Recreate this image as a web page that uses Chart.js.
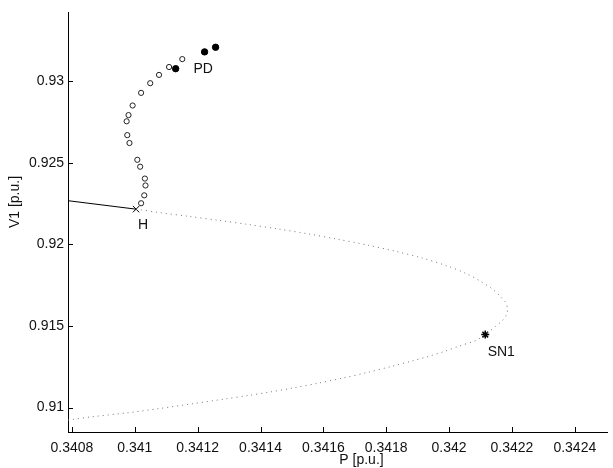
<!DOCTYPE html>
<html>
<head>
<meta charset="utf-8">
<script src="https://cdn.jsdelivr.net/npm/chart.js@4/dist/chart.umd.min.js"></script>
<style>
  html, body { margin: 0; padding: 0; background: #fff; overflow: hidden; }
  #wrap { width: 613px; height: 468px; }
</style>
</head>
<body>
<div id="wrap"><canvas id="bifChart" width="613" height="468"></canvas></div>
<script>
// stable equilibrium branch (solid) up to the Hopf point
const stableP = [0.340787, 0.341004];
const stableV = [0.922680, 0.922160];

// unstable equilibrium branch (dotted), H -> nose -> SN1 -> lower branch
const unstableP = [0.341004, 0.341077, 0.341172, 0.341266, 0.341361, 0.341455, 0.341550, 0.341644,
  0.341739, 0.341833, 0.341912, 0.341991, 0.342054, 0.342101, 0.342139, 0.342164, 0.342180,
  0.342186, 0.342183, 0.342170, 0.342148, 0.342115, 0.342085, 0.342032, 0.341984, 0.341934,
  0.341883, 0.341817, 0.341739, 0.341660, 0.341581, 0.341502, 0.341430, 0.341361, 0.341288,
  0.341181, 0.341077, 0.340973, 0.340866, 0.340800, 0.340787];
const unstableV = [0.922160, 0.921954, 0.921718, 0.921476, 0.921222, 0.920950, 0.920653, 0.920321,
  0.919964, 0.919564, 0.919177, 0.918699, 0.918215, 0.917731, 0.917248, 0.916794, 0.916431,
  0.916068, 0.915705, 0.915342, 0.914979, 0.914477, 0.914114, 0.913769, 0.913436, 0.913134,
  0.912862, 0.912529, 0.912148, 0.911803, 0.911488, 0.911198, 0.910956, 0.910744, 0.910532,
  0.910230, 0.909939, 0.909673, 0.909443, 0.909273, 0.909237];

// periodic orbit branch (open circles)
const cycleP = [0.341020, 0.341030, 0.341034, 0.341032, 0.341017, 0.341008, 0.340983, 0.340976,
  0.340974, 0.340980, 0.340993, 0.341020, 0.341049, 0.341077, 0.341109, 0.341151];
const cycleV = [0.922523, 0.923007, 0.923612, 0.924035, 0.924761, 0.925185, 0.926213, 0.926697,
  0.927544, 0.927925, 0.928512, 0.929286, 0.929879, 0.930387, 0.930871, 0.931355];

// period doubled orbits (filled circles)
const pdP = [0.341130, 0.341222, 0.341257];
const pdV = [0.930768, 0.931797, 0.932081];

// bifurcation points
const hopfP = [0.341004];
const hopfV = [0.922160];
const snP = [0.342115];
const snV = [0.914477];

const xTicks = [0.3408, 0.341, 0.3412, 0.3414, 0.3416, 0.3418, 0.342, 0.3422, 0.3424];
const yTicks = [0.91, 0.915, 0.92, 0.925, 0.93];

const FONT = '"Liberation Sans", Arial, sans-serif';

function pts(xs, ys) {
    return xs.map((x, i) => ({ x: x, y: ys[i] }));
}

function fmt(v) {
    return String(Number(v.toFixed(4)));
}

// inside tick marks, point labels and axis titles
const decorations = {
    id: 'decorations',
    afterDraw(chart) {
        const ctx = chart.ctx;
        const xs = chart.scales.x;
        const ys = chart.scales.y;
        const area = chart.chartArea;
        ctx.save();
        ctx.strokeStyle = '#000';
        ctx.lineWidth = 1;
        ctx.beginPath();
        xTicks.forEach(v => {
            const px = Math.round(xs.getPixelForValue(v)) + 0.5;
            ctx.moveTo(px, area.bottom);
            ctx.lineTo(px, area.bottom - 5);
        });
        yTicks.forEach(v => {
            const py = Math.round(ys.getPixelForValue(v)) + 0.5;
            ctx.moveTo(area.left, py);
            ctx.lineTo(area.left + 5, py);
        });
        ctx.stroke();

        ctx.fillStyle = '#111';
        ctx.font = '14px ' + FONT;
        ctx.textAlign = 'center';
        ctx.textBaseline = 'middle';
        const label = (text, x, y, dx, dy) => {
            ctx.fillText(text, xs.getPixelForValue(x) + dx, ys.getPixelForValue(y) + dy);
        };
        label('H', hopfP[0], hopfV[0], 7, 16);
        label('PD', pdP[0], pdV[0], 27.5, 0.5);
        label('SN1', snP[0], snV[0], 16, 17.5);

        ctx.fillText('P [p.u.]', 361.5, 460);
        ctx.translate(15, 202);
        ctx.rotate(-Math.PI / 2);
        ctx.fillText('V1 [p.u.]', 0, 0);
        ctx.restore();
    }
};

const ctx = document.getElementById('bifChart').getContext('2d');

new Chart(ctx, {
    type: 'scatter',
    data: {
        datasets: [
            {
                label: 'stable',
                data: pts(stableP, stableV),
                showLine: true,
                borderColor: '#000',
                borderWidth: 1,
                pointRadius: 0
            },
            {
                label: 'unstable',
                data: pts(unstableP, unstableV),
                showLine: true,
                borderColor: '#777',
                borderWidth: 1,
                borderDash: [1, 4],
                tension: 0.3,
                pointRadius: 0
            },
            {
                label: 'cycles',
                data: pts(cycleP, cycleV),
                pointStyle: 'circle',
                pointRadius: 2.6,
                borderWidth: 1,
                borderColor: '#222',
                backgroundColor: '#fff'
            },
            {
                label: 'PD',
                data: pts(pdP, pdV),
                pointStyle: 'circle',
                pointRadius: 3.2,
                borderWidth: 1,
                borderColor: '#000',
                backgroundColor: '#000'
            },
            {
                label: 'H',
                data: pts(hopfP, hopfV),
                pointStyle: 'crossRot',
                pointRadius: 4.5,
                borderWidth: 1,
                borderColor: '#000'
            },
            {
                label: 'SN1',
                data: pts(snP, snV),
                pointStyle: 'star',
                pointRadius: 4,
                borderWidth: 1.5,
                borderColor: '#000',
                backgroundColor: '#000'
            }
        ]
    },
    options: {
        responsive: false,
        animation: false,
        layout: { padding: { top: 7, left: 0, right: 0, bottom: 0 } },
        plugins: {
            legend: { display: false },
            tooltip: { enabled: false }
        },
        scales: {
            x: {
                type: 'linear',
                min: 0.3407874,
                max: 0.342504,
                afterFit(scale) { scale.height = 36; },
                afterBuildTicks(scale) { scale.ticks = xTicks.map(v => ({ value: v })); },
                border: { display: true, color: '#000', width: 1 },
                grid: { display: true, drawOnChartArea: false, drawTicks: false },
                ticks: {
                    padding: 8,
                    color: '#111',
                    font: { family: FONT, size: 14 },
                    maxRotation: 0,
                    autoSkip: false,
                    callback: v => fmt(v)
                }
            },
            y: {
                type: 'linear',
                min: 0.908505,
                max: 0.934217,
                afterFit(scale) { scale.width = 68; },
                afterBuildTicks(scale) { scale.ticks = yTicks.map(v => ({ value: v })); },
                border: { display: true, color: '#000', width: 1 },
                grid: { display: true, drawOnChartArea: false, drawTicks: false },
                ticks: {
                    padding: 4,
                    color: '#111',
                    font: { family: FONT, size: 14 },
                    autoSkip: false,
                    callback: v => fmt(v)
                }
            }
        }
    },
    plugins: [decorations]
});
</script>
</body>
</html>
